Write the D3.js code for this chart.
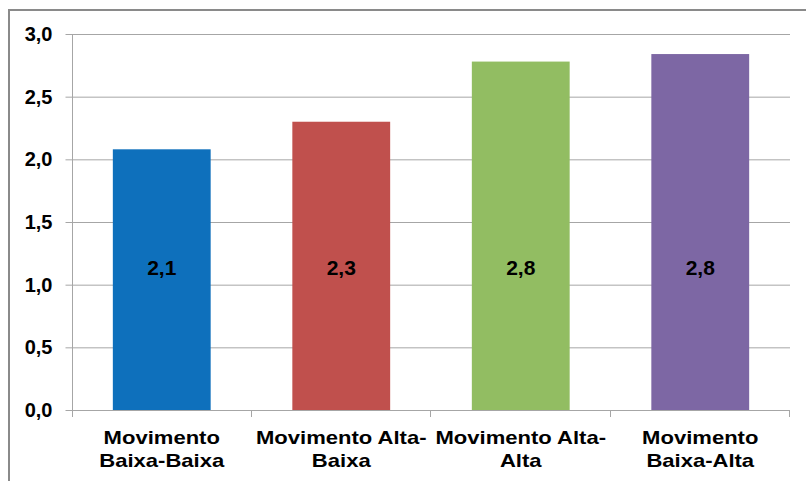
<!DOCTYPE html>
<html lang="pt">
  <head>
    <meta charset="UTF-8" />
    <title>Movimento</title>
    <script src="https://d3js.org/d3.v7.min.js"></script>
    <style>
      body {
        margin: 0;
        padding: 0;
        background: #fff;
        overflow: hidden;
      }
      text {
        font-family: "Liberation Sans", Arial, sans-serif;
        font-weight: bold;
        fill: #000;
      }
    </style>
  </head>
  <body>
    <svg id="chart" width="806" height="481"></svg>
    <script>
      // data
      var categories = ["BB", "AB", "AA", "BA"];
      var categoryLines = [
        ["Movimento", "Baixa-Baixa"],
        ["Movimento Alta-", "Baixa"],
        ["Movimento Alta-", "Alta"],
        ["Movimento", "Baixa-Alta"],
      ];
      var values = [2.08, 2.3, 2.78, 2.84];
      var colors = ["#0E70BC", "#C0504D", "#92BD62", "#7D67A4"];
      var yTicks = [0, 0.5, 1, 1.5, 2, 2.5, 3];

      var svg = d3.select("#chart");
      var ptBR = d3.formatLocale({
        decimal: ",",
        thousands: ".",
        grouping: [3],
        currency: ["R$", ""],
      });
      var fmt = ptBR.format(".1f");

      var margin = { left: 72, right: 16, top: 34, bottom: 71 };
      var width = 806 - margin.left - margin.right;
      var height = 481 - margin.top - margin.bottom;

      // outer chart frame
      svg
        .append("path")
        .attr("d", "M9,481 V10 H806")
        .attr("fill", "none")
        .attr("stroke", "#8a8a8a")
        .attr("stroke-width", 2);

      var g = svg
        .append("g")
        .attr("transform", "translate(" + margin.left + "," + margin.top + ")");

      var x = d3
        .scaleBand()
        .domain(categories)
        .range([0, width])
        .paddingInner(0.455)
        .paddingOuter(0.2275);
      var step = x.step();

      var y = d3.scaleLinear().domain([0, 3]).range([height, 0]);

      // gridlines
      g.append("g")
        .selectAll("line")
        .data(yTicks.slice(1))
        .enter()
        .append("line")
        .attr("x1", 0)
        .attr("x2", width)
        .attr("y1", function (d) {
          return y(d) + 0.5;
        })
        .attr("y2", function (d) {
          return y(d) + 0.5;
        })
        .attr("stroke", "#a6a6a6")
        .attr("stroke-width", 1);

      // bars
      g.selectAll("rect.bar")
        .data(values)
        .enter()
        .append("rect")
        .attr("class", "bar")
        .attr("x", function (d, i) {
          return x(categories[i]);
        })
        .attr("y", function (d) {
          return y(d);
        })
        .attr("width", x.bandwidth())
        .attr("height", function (d) {
          return height - y(d);
        })
        .attr("fill", function (d, i) {
          return colors[i];
        });

      // value labels
      g.selectAll("text.val")
        .data(values)
        .enter()
        .append("text")
        .attr("class", "val")
        .attr("x", function (d, i) {
          return x(categories[i]) + x.bandwidth() / 2;
        })
        .attr("y", y(1.08))
        .attr("text-anchor", "middle")
        .style("font-size", "21px")
        .text(function (d) {
          return fmt(d);
        });

      // y axis
      var yAxis = d3
        .axisLeft(y)
        .tickValues(yTicks)
        .tickSize(7)
        .tickPadding(13)
        .tickFormat(fmt);
      var ya = g.append("g").attr("transform", "translate(0.5,0)").call(yAxis);
      ya.select(".domain").remove();
      ya.selectAll(".tick line").attr("stroke", "#a6a6a6");
      ya.selectAll(".tick text")
        .style("font-size", "20px")
        .style("font-family", "'Liberation Sans', Arial, sans-serif")
        .style("font-weight", "bold")
        .attr("fill", "#000");
      g.append("line")
        .attr("x1", 0.5)
        .attr("x2", 0.5)
        .attr("y1", 0)
        .attr("y2", height + 7)
        .attr("stroke", "#a6a6a6");

      // x axis line and tick marks at band boundaries
      g.append("line")
        .attr("x1", 0)
        .attr("x2", width)
        .attr("y1", height + 0.5)
        .attr("y2", height + 0.5)
        .attr("stroke", "#a6a6a6");
      g.selectAll("line.xt")
        .data(d3.range(1, categories.length + 1))
        .enter()
        .append("line")
        .attr("class", "xt")
        .attr("x1", function (d) {
          return Math.round(d * step) - 0.5;
        })
        .attr("x2", function (d) {
          return Math.round(d * step) - 0.5;
        })
        .attr("y1", height)
        .attr("y2", height + 7)
        .attr("stroke", "#a6a6a6");

      // category labels (two lines each)
      var cat = g
        .selectAll("g.cat")
        .data(categoryLines)
        .enter()
        .append("g")
        .attr("class", "cat")
        .attr("transform", function (d, i) {
          var cx = x(categories[i]) + x.bandwidth() / 2;
          return "translate(" + cx + "," + (height + 34) + ") scale(1.16,1)";
        });
      cat
        .selectAll("text")
        .data(function (d) {
          return d;
        })
        .enter()
        .append("text")
        .attr("x", 0)
        .attr("y", function (d, i) {
          return i * 23;
        })
        .attr("text-anchor", "middle")
        .style("font-size", "19px")
        .text(function (d) {
          return d;
        });
    </script>
  </body>
</html>
